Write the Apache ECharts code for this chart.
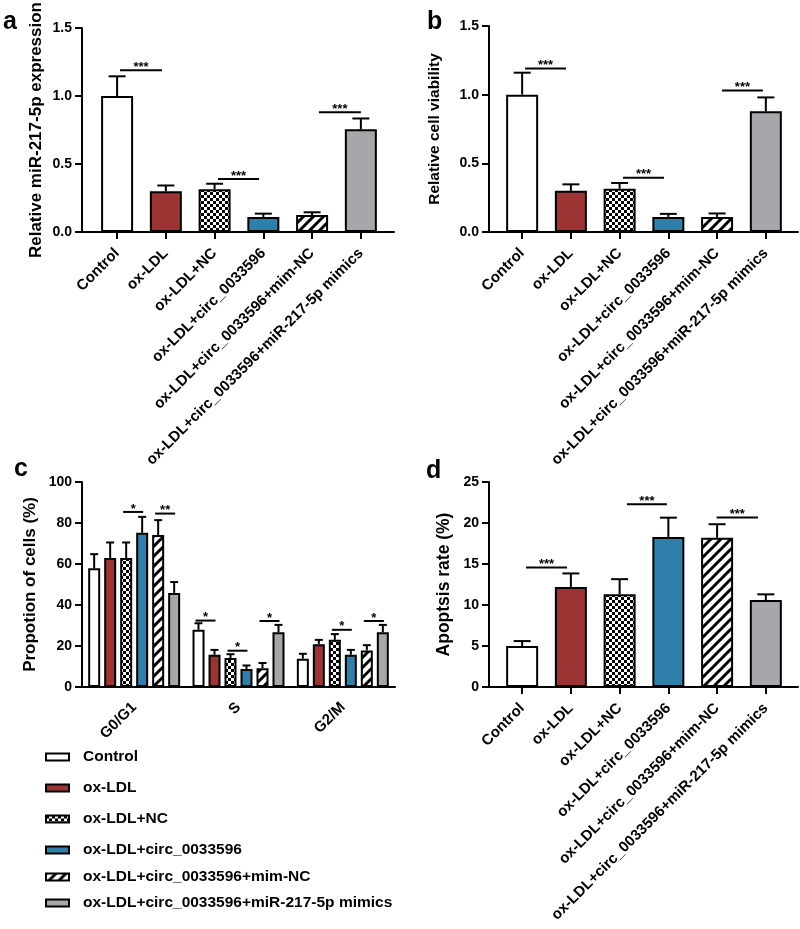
<!DOCTYPE html>
<html><head><meta charset="utf-8">
<script src="https://cdn.jsdelivr.net/npm/echarts@6/dist/echarts.min.js"></script>
<style>html,body{margin:0;padding:0;background:#fff}#c{width:800px;height:929px}</style>
</head><body><div id="c"></div>
<script>
// ---------- data ----------
const groups = ['Control','ox-LDL','ox-LDL+NC','ox-LDL+circ_0033596','ox-LDL+circ_0033596+mim-NC','ox-LDL+circ_0033596+miR-217-5p mimics'];
const mirValues = [1.0, 0.30, 0.315, 0.11, 0.125, 0.755];
const mirErrors = [0.145, 0.042, 0.04, 0.025, 0.02, 0.08];
const viabilityValues = [1.0, 0.30, 0.315, 0.11, 0.11, 0.88];
const viabilityErrors = [0.16, 0.047, 0.042, 0.022, 0.025, 0.10];
const phases = ['G0/G1','S','G2/M'];
// one row per group, values for G0/G1, S, G2/M
const cycleValues = [
  [57.9, 27.9, 13.8],
  [62.9, 15.7, 20.9],
  [62.9, 14.1, 23.0],
  [75.2, 8.8, 15.7],
  [74.1, 9.2, 17.8],
  [45.9, 26.7, 26.7]
];
const cycleErrors = [
  [6.9, 3.2, 2.4],
  [7.6, 2.4, 2.1],
  [7.6, 1.9, 2.8],
  [7.8, 1.7, 2.4],
  [7.3, 2.5, 2.6],
  [5.3, 3.6, 3.6]
];
const apoptosisValues = [5.0, 12.2, 11.3, 18.3, 18.2, 10.6];
const apoptosisErrors = [0.6, 1.65, 1.85, 2.35, 1.65, 0.7];
// significance brackets: [from, to, y, label]
const mirBrackets = [[0.06, 0.92, 1.19, '***'], [2.07, 2.91, 0.39, '***'], [4.14, 5.0, 0.88, '***']];
const viabilityBrackets = [[0.06, 0.90, 1.19, '***'], [2.07, 2.91, 0.395, '***'], [4.10, 4.94, 1.03, '***']];
// [phase, fromGroup, toGroup, y, label]
const cycleBrackets = [[0,2,3,85.4,'*'],[0,4,5,84.6,'**'],[1,0,1,32.4,'*'],[1,2,3,17.7,'*'],[1,4,5,32.2,'*'],[2,2,3,27.9,'*'],[2,4,5,32.2,'*']];
const apoptosisBrackets = [[0.08, 0.92, 14.56, '***'], [2.15, 2.97, 22.28, '***'], [3.99, 4.84, 20.66, '***']];

// ---------- styles ----------
const FONT = 'Liberation Sans, Arial, sans-serif';
function checker(){const c=document.createElement('canvas');c.width=c.height=6;const g=c.getContext('2d');g.fillStyle='#fff';g.fillRect(0,0,6,6);g.fillStyle='#000';g.fillRect(0,0,3,3);g.fillRect(3,3,3,3);return c;}
function stripes(){const c=document.createElement('canvas');c.width=c.height=10;const g=c.getContext('2d');g.fillStyle='#fff';g.fillRect(0,0,10,10);g.strokeStyle='#000';g.lineWidth=3;g.beginPath();g.moveTo(-5,5);g.lineTo(5,-5);g.moveTo(0,10);g.lineTo(10,0);g.moveTo(5,15);g.lineTo(15,5);g.stroke();return c;}
const fills = ['#ffffff', '#9b3432', {image: checker(), repeat: 'repeat'}, '#2f7fab', {image: stripes(), repeat: 'repeat'}, '#a7a7ab'];
const BORDER = {borderColor: '#000', borderWidth: 2};
const C_BAR = 12, C_STEP = 16;

const grids = [
  {left: 82, top: 26, width: 312, height: 206},
  {left: 489, top: 26, width: 309, height: 206},
  {left: 82, top: 482, width: 313, height: 205},
  {left: 489, top: 482, width: 309, height: 205}
];
const idx6 = groups.map((g, i) => i);
function valueCatX(gi, min, max) {
  return {type: 'value', gridIndex: gi, min: min, max: max, splitLine: {show: false},
    axisLine: {onZero: false, lineStyle: {color: '#000', width: 2}},
    axisTick: {customValues: idx6, length: 7, lineStyle: {color: '#000', width: 2}},
    axisLabel: {customValues: idx6, formatter: v => groups[Math.round(v)], rotate: 45, fontSize: 15, fontWeight: 'bold', color: '#000', margin: 19, fontFamily: FONT}};
}
function yAx(gi, max, interval, name, gap, nameSize, fmt) {
  return {type: 'value', gridIndex: gi, min: 0, max: max, interval: interval, name: name, nameLocation: 'middle', nameGap: gap,
    nameTextStyle: {fontSize: nameSize, fontWeight: 'bold', color: '#000', fontFamily: FONT},
    splitLine: {show: false},
    axisLine: {show: true, onZero: false, lineStyle: {color: '#000', width: 2}},
    axisTick: {show: true, length: 7, lineStyle: {color: '#000', width: 2}},
    axisLabel: {fontSize: 14, fontWeight: 'bold', color: '#000', margin: 10, fontFamily: FONT, formatter: fmt}};
}
function barSeries(ai, vals) {
  return {type: 'bar', xAxisIndex: ai, yAxisIndex: ai, barWidth: 32, z: 2,
    data: vals.map((v, i) => ({value: [i, v], itemStyle: Object.assign({color: fills[i]}, BORDER)}))};
}
function line(x1, y1, x2, y2) {return {type: 'line', shape: {x1, y1, x2, y2}, style: {stroke: '#000', lineWidth: 2}};}
function errSeries(ai, vals, errs, cap) {
  return {type: 'custom', xAxisIndex: ai, yAxisIndex: ai, z: 3,
    data: vals.map((v, i) => [i, v, v + errs[i]]),
    renderItem: (p, api) => {
      const b = api.coord([api.value(0), api.value(1)]);
      const t = api.coord([api.value(0), api.value(2)]);
      return {type: 'group', children: [line(b[0], b[1], t[0], t[1]), line(t[0] - cap, t[1], t[0] + cap, t[1])]};
    }};
}
function sigText(x, y, txt) {
  return {type: 'text', x: x, y: y - 3, style: {text: txt, fill: '#000', font: 'bold 13px ' + FONT, textAlign: 'center', textVerticalAlign: 'middle'}};
}
function bracketSeries(ai, br) {
  return {type: 'custom', xAxisIndex: ai, yAxisIndex: ai, z: 3,
    data: br.map(b => [b[0], b[1], b[2]]),
    renderItem: (p, api) => {
      const a = api.coord([api.value(0), api.value(2)]);
      const b = api.coord([api.value(1), api.value(2)]);
      return {type: 'group', children: [line(a[0], a[1], b[0], b[1]), sigText((a[0] + b[0]) / 2, a[1], br[p.dataIndex][3])]};
    }};
}

const series = [
  barSeries(0, mirValues), errSeries(0, mirValues, mirErrors, 8.5), bracketSeries(0, mirBrackets),
  barSeries(1, viabilityValues), errSeries(1, viabilityValues, viabilityErrors, 8.5), bracketSeries(1, viabilityBrackets),
  barSeries(3, apoptosisValues), errSeries(3, apoptosisValues, apoptosisErrors, 8.5), bracketSeries(3, apoptosisBrackets)
];
groups.forEach((g, i) => {
  series.push({type: 'bar', name: g, xAxisIndex: 2, yAxisIndex: 2, barWidth: C_BAR, barGap: '33.3%', z: 2,
    itemStyle: Object.assign({color: fills[i]}, BORDER), data: cycleValues[i]});
  series.push({type: 'custom', xAxisIndex: 2, yAxisIndex: 2, z: 3,
    data: cycleValues[i].map((v, k) => [k, v, v + cycleErrors[i][k]]),
    renderItem: (p, api) => {
      const off = (i - 2.5) * C_STEP;
      const b = api.coord([api.value(0), api.value(1)]);
      const t = api.coord([api.value(0), api.value(2)]);
      return {type: 'group', children: [line(b[0] + off, b[1], t[0] + off, t[1]), line(t[0] + off - 4, t[1], t[0] + off + 4, t[1])]};
    }});
});
series.push({type: 'custom', xAxisIndex: 2, yAxisIndex: 2, z: 3,
  data: cycleBrackets.map(b => [b[0], b[1], b[2], b[3]]),
  renderItem: (p, api) => {
    const c = api.coord([api.value(0), api.value(3)]);
    const x1 = c[0] + (api.value(1) - 2.5) * C_STEP - 3;
    const x2 = c[0] + (api.value(2) - 2.5) * C_STEP + 1;
    return {type: 'group', children: [line(x1, c[1], x2, c[1]), sigText((x1 + x2) / 2, c[1], cycleBrackets[p.dataIndex][4])]};
  }});

const legendCenters = [757, 788, 819, 850, 877, 903];
const legends = groups.map((g, i) => ({data: [g], left: 45, top: legendCenters[i] - 8, padding: 0, icon: 'rect',
  itemWidth: 23, itemHeight: 7, selectedMode: false,
  textStyle: {fontSize: 15.5, fontWeight: 'bold', color: '#000', fontFamily: FONT, padding: [0, 0, 0, 9]}}));

const letterStyle = t => ({text: t, fill: '#000', font: 'bold 25px ' + FONT, textVerticalAlign: 'bottom'});
const option = {
  animation: false,
  textStyle: {fontFamily: FONT},
  grid: grids,
  xAxis: [
    valueCatX(0, -0.72, 5.68),
    valueCatX(1, -0.68, 5.66),
    {type: 'category', gridIndex: 2, data: phases, axisLine: {onZero: false, lineStyle: {color: '#000', width: 2}},
      axisTick: {alignWithLabel: true, length: 7, lineStyle: {color: '#000', width: 2}},
      axisLabel: {rotate: 45, fontSize: 15, fontWeight: 'bold', color: '#000', margin: 18, fontFamily: FONT}},
    valueCatX(3, -0.68, 5.66)
  ],
  yAxis: [
    yAx(0, 1.5, 0.5, 'Relative miR-217-5p expression', 37, 17, v => v.toFixed(1)),
    yAx(1, 1.5, 0.5, 'Relative cell viability', 46, 15.5, v => v.toFixed(1)),
    yAx(2, 100, 20, 'Propotion of cells (%)', 43, 17, v => String(v)),
    yAx(3, 25, 5, 'Apoptsis rate (%)', 36, 17.5, v => String(v))
  ],
  legend: legends,
  graphic: [
    {type: 'text', left: 3, top: 10, style: letterStyle('a')},
    {type: 'text', left: 427, top: 10, style: letterStyle('b')},
    {type: 'text', left: 14, top: 457, style: letterStyle('c')},
    {type: 'text', left: 426, top: 459, style: letterStyle('d')}
  ],
  series: series
};
const chart = echarts.init(document.getElementById('c'), null, {renderer: 'canvas'});
chart.setOption(option);
</script>
</body></html>
